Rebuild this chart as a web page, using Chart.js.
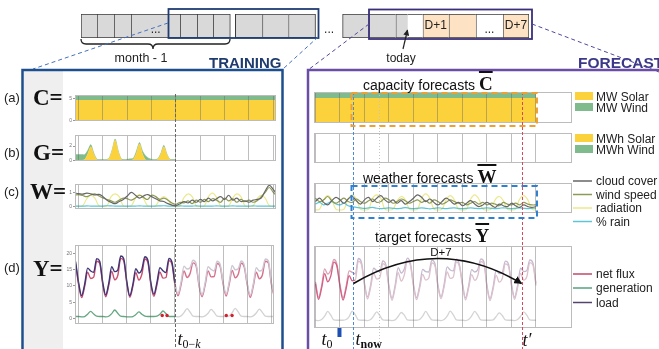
<!DOCTYPE html>
<html><head><meta charset="utf-8">
<script src="https://cdn.jsdelivr.net/npm/chart.js@4.4.1/dist/chart.umd.min.js"></script>
<style>
html,body{margin:0;padding:0;background:#fff}
#root{position:relative;width:659px;height:349px;overflow:hidden;background:#fff;font-family:"Liberation Sans",Arial,sans-serif}
#root canvas{position:absolute}
.ttl{position:absolute;white-space:nowrap;font-size:14px;line-height:14px;color:#111}
.ttl b{font-family:"Liberation Serif",serif;font-size:19px;text-decoration:overline;text-decoration-thickness:2px}
</style></head>
<body><div id="root">
<div style="position:absolute;left:24px;top:71px;width:39px;height:280px;background:#efefef"></div>
</div>
<script>
// ---------------- DATA ----------------
// top timeline (cell sizes, kinds, texts)
const tlUnits = [16,17,17,49,17,16,17,5,27,26,27,27,26,27,12,15,26,27,27,26];
const tlKinds = ['g','g','g','g','g','g','g','_','g','g','g','_','g','g','g','h','p','p','w','p'];
const tlText  = ['','','','...','','','','','','','','...','','','','','D+1','','...','D+7'];

// day grid
const daysL = [0,1,2,3,4,5,6,7,8];
const daysR = [0,1,2,3,4,5,6,7,8,9];

// time markers (days)
const T0K = 4, TNOW = 1.53, TTODAY = 2.6, TPRIME = 8.43, REND = 9;

// capacity C (MW)
const capDaysL  = [-1,0,1,2,3,4,5,6,7,8,9];
const capSolarL = [4.6,4.6,4.6,4.6,4.6,4.6,4.6,4.6,4.6,4.6,4.6];
const capWindL  = [1.15,1.15,1.15,1.15,1.15,1.15,1.15,1.15,1.15,1.15,1.15];
const capDaysR  = [-1,0,1,2,3,4,5,6,7,8,9];
const capSolarR = [4.6,4.6,4.6,4.6,4.6,4.6,4.6,4.6,4.6,4.6,4.6];
const capWindR  = [1.1,1.1,1.1,1.1,1.1,1.1,1.1,1.1,1.1,1.1,1.1];

// generation G (MWh), 3-hourly from day -0.125 to 4
const genSolarL = [0,
 0,0,0.1,0.9,1.9,0.8,0.05,0,
 0,0,0.2,1.3,2.8,1.2,0.1,0,
 0,0,0.1,1.0,2.3,0.9,0.05,0,
 0,0,0.1,0.8,1.9,0.8,0.05,0,
 0];
const genWindL = [0.8,
 0.8,0.8,0.7,0.5,0.3,0.2,0.1,0.1,
 0.1,0.1,0.1,0.15,0.2,0.15,0.1,0.1,
 0.15,0.2,0.2,0.3,0.2,0.4,0.6,0.3,
 0.15,0.1,0.1,0.15,0.2,0.1,0.1,0.1,
 0.1];

// weather W, 4-hourly; left from day -1/6, right from day 0
const cloudL = [0.95,0.92,0.88,0.95,0.9,0.82,0.86,
 0.7,0.45,0.3,0.2,0.35,0.5,
 0.75,1.0,0.8,0.6,0.75,0.85,
 0.7,0.55,0.4,0.35,0.2,0.1,
 0.05,0.2,0.35,0.25,0.45,0.3,
 0.5,0.35,0.6,0.4,0.55,0.7,
 0.5,0.8,0.45,0.6,0.35,0.4,
 0.3,0.45,0.5,0.6,1.1,1.5,
 1.2,0.8];
const windL = [0.8,0.85,0.78,0.7,0.82,0.9,0.75,
 0.6,0.5,0.4,0.3,0.45,0.6,
 0.55,0.45,0.6,0.8,0.65,0.5,
 0.8,0.7,0.5,0.6,0.45,0.25,
 0.15,0.3,0.25,0.4,0.2,0.45,
 0.3,0.5,0.35,0.55,0.45,0.3,
 0.6,0.4,0.55,0.3,0.5,0.35,
 0.45,0.3,0.4,0.7,1.0,1.35,
 1.0,0.7];
const radL = [0.05,
 0,0.05,0.55,0.8,0.6,0.05,
 0,0.05,0.7,0.9,0.7,0.05,
 0,0.05,0.6,0.85,0.55,0.05,
 0,0.05,0.5,0.7,0.5,0.05,
 0,0.05,0.65,0.9,0.7,0.05,
 0,0.05,0.7,0.95,0.65,0.05,
 0,0.05,0.6,0.9,0.7,0.05,
 0,0.05,0.55,0.8,0.6,0.05,
 0,0.05];
const rainL = [0.03,0.03,0.02,0.04,0.03,0.03,0.02,
 0.03,0.05,0.04,0.03,0.02,0.03,
 0.03,0.02,0.03,0.04,0.03,0.02,
 0.03,0.03,0.04,0.05,0.03,0.02,
 0.03,0.04,0.03,0.02,0.03,0.04,
 0.03,0.02,0.03,0.03,0.04,0.03,
 0.02,0.03,0.04,0.03,0.02,0.03,
 0.03,0.04,0.03,0.02,0.03,0.03,
 0.03,0.03];
const cloudR = [0.5,0.7,0.45,0.3,0.55,0.75,
 0.6,0.4,0.65,0.8,0.55,0.35,
 0.6,0.75,0.5,0.7,0.85,0.6,
 0.45,0.6,0.4,0.55,0.35,0.5,
 0.7,0.9,0.75,0.5,0.65,0.45,
 0.3,0.5,0.7,0.55,0.35,0.45,
 0.25,0.4,0.55,0.35,0.2,0.3,
 0.45,0.3,0.15,0.35,0.25,0.2,
 0.4,0.25,0.15,0.3,0.2,0.15,
 0.2];
const windR = [0.7,0.5,0.6,0.8,0.55,0.4,
 0.55,0.7,0.5,0.45,0.65,0.5,
 0.4,0.55,0.65,0.45,0.5,0.7,
 0.6,0.4,0.5,0.65,0.55,0.4,
 0.5,0.6,0.45,0.55,0.4,0.6,
 0.5,0.35,0.45,0.6,0.5,0.4,
 0.45,0.3,0.4,0.5,0.35,0.45,
 0.3,0.4,0.35,0.25,0.45,0.35,
 0.3,0.4,0.3,0.45,0.35,0.3,
 0.3];
const radR = [0,0.05,0.6,0.85,0.6,0.05,
 0,0.05,0.65,0.9,0.65,0.05,
 0,0.05,0.7,0.9,0.7,0.05,
 0,0.05,0.55,0.8,0.6,0.05,
 0,0.05,0.7,0.95,0.7,0.05,
 0,0.05,0.6,0.85,0.6,0.05,
 0,0.05,0.65,0.9,0.65,0.05,
 0,0.05,0.6,0.8,0.55,0.05,
 0,0.05,0.65,0.85,0.6,0.05,
 0];
const rainR = [0.35,0.45,0.3,0.4,0.5,0.35,
 0.3,0.4,0.25,0.2,0.15,0.12,
 0.1,0.12,0.15,0.1,0.08,0.1,
 0.12,0.1,0.08,0.1,0.14,0.1,
 0.08,0.1,0.12,0.1,0.07,0.1,
 0.13,0.1,0.08,0.11,0.12,0.09,
 0.08,0.1,0.12,0.1,0.08,0.1,
 0.12,0.1,0.08,0.1,0.13,0.1,
 0.08,0.1,0.12,0.1,0.08,0.1,
 0.1];

// targets Y, 3-hourly; left from day -0.125, right from day 0
const loadL = [17.5,
 11,7,10.5,15.5,14.6,14.2,18.4,17.6,
 11.2,7.2,10.8,15.9,14.4,14.9,19.2,18.3,
 11.4,7.0,10.4,15.3,14.0,15.1,19.0,17.9,
 11.0,7.4,11.0,15.6,14.7,14.1,18.5,17.3,
 10.9,7.6,11.1,16.1,15.2,15.6,17.9,16.9,
 10.6,7.3,10.9,15.9,15.1,14.6,17.6,16.6,
 11.1,7.5,11.3,16.3,15.0,15.3,17.7,16.4,
 10.9,7.1,10.6,15.6,14.6,15.0,18.3,17.7,
 11.2,7.2];
const netL = [16.8,
 10.4,6.4,9.8,14.2,12.3,12.7,17.6,17.0,
 10.6,6.7,10.1,14.5,11.9,13.2,18.5,17.7,
 10.9,6.5,9.8,14.1,11.8,13.6,18.3,17.3,
 10.4,6.8,10.3,14.3,12.4,12.6,17.8,16.7,
 10.3,7.0,10.3,14.6,12.6,13.8,17.1,16.2,
 10.0,6.7,10.2,14.6,12.8,12.9,16.9,16.0,
 10.5,6.9,10.5,14.8,12.5,13.6,17.0,15.8,
 10.3,6.5,9.9,14.2,12.2,13.3,17.6,17.1,
 10.6,6.6];
const genL = [0.6,
 0.6,0.5,0.6,1.3,2.2,1.4,0.7,0.6,
 0.6,0.5,0.7,1.5,2.6,1.6,0.7,0.6,
 0.5,0.5,0.6,1.2,2.0,1.3,0.7,0.6,
 0.6,0.6,0.7,1.3,2.3,1.5,0.6,0.6,
 0.6,0.5,0.8,1.8,3.0,2.0,0.7,0.6,
 0.6,0.5,0.8,1.6,2.8,1.9,0.7,0.6,
 0.6,0.6,0.8,1.8,3.1,2.0,0.7,0.6,
 0.6,0.5,0.8,1.7,2.9,1.9,0.7,0.6,
 0.6,0.6];
const missX = [3.47,3.67,6.13,6.37];
const missY = [0.9,0.9,0.9,0.9];
const loadR = [12,7.4,10.8,15.8,14.3,15.5,18.6,17.2,
 11.2,7.2,10.6,15.2,14.8,14.3,18.9,17.8,
 11.6,7.5,11.0,16.0,15.3,15.0,18.2,17.0,
 10.8,7.1,10.9,16.2,14.6,15.8,19.0,17.5,
 11.3,7.3,10.7,15.7,15.0,14.9,18.4,17.4,
 11.0,7.6,11.2,16.4,15.5,15.2,18.7,17.1,
 11.5,7.2,10.8,15.6,14.9,15.6,18.8,17.9,
 10.9,7.0,10.5,15.4,14.4,14.8,18.1,17.3,
 11.4,7.4,11.0,16.0,15.0,15.3,18.5,17.6,
 11.5];
const netR = [11.4,6.8,10.1,14.4,12.0,13.7,17.8,16.6,
 10.6,6.6,9.9,13.8,12.3,12.5,18.1,17.2,
 11.0,6.9,10.3,14.5,12.8,13.2,17.4,16.4,
 10.2,6.5,10.2,14.7,12.2,14.0,18.2,16.9,
 10.7,6.7,10.0,14.2,12.5,13.1,17.6,16.8,
 10.4,7.0,10.5,14.9,13.0,13.4,17.9,16.5,
 10.9,6.6,10.1,14.1,12.4,13.8,18.0,17.3,
 10.3,6.4,9.8,13.9,11.9,13.0,17.3,16.7,
 10.8,6.8,10.3,14.5,12.5,13.5,17.7,17.0,
 10.9];
const genR = [0.6,0.5,0.8,1.8,3.2,2.1,0.7,0.6,
 0.6,0.6,0.8,1.7,3.3,2.2,0.7,0.6,
 0.6,0.5,0.8,1.9,3.1,2.0,0.7,0.6,
 0.6,0.5,0.7,1.7,2.9,2.1,0.7,0.6,
 0.6,0.6,0.8,1.8,3.2,1.9,0.7,0.6,
 0.6,0.5,0.8,1.8,3.3,2.2,0.7,0.6,
 0.6,0.5,0.8,1.9,3.2,2.1,0.7,0.6,
 0.6,0.6,0.7,1.7,2.8,2.0,0.7,0.6,
 0.6,0.5,0.8,1.8,3.1,2.1,0.7,0.6,
 0.6];

// axis ticks
const yTicksC = [0,5], yTicksG = [0,2], yTicksW = [0,1], yTicksY = [0,5,10,15,20];

// ---------------- RENDER ----------------
Chart.defaults.font.family = '"Liberation Sans", Arial, sans-serif';
const root = document.getElementById('root');
function addCanvas(left, top, w, h){
  const c = document.createElement('canvas');
  c.width = w; c.height = h;
  c.style.left = left+'px'; c.style.top = top+'px';
  c.style.width = w+'px'; c.style.height = h+'px';
  root.appendChild(c); return c;
}
const pts = (vals, x0, step) => vals.map((v,i)=>({x:x0+i*step, y:v}));
const pairs = (xs, ys) => xs.map((x,i)=>({x, y:ys[i]}));
const seg = (t, a, b) => ({borderColor: c => c.p0.parsed.x < t ? a : b});

const framePlugin = {id:'frame', afterDraw(c){
  const a = c.chartArea, x = c.ctx;
  x.save(); x.strokeStyle = '#bcbcbc'; x.lineWidth = 1;
  x.strokeRect(Math.round(a.left)+0.5, Math.round(a.top)+0.5, Math.round(a.right-a.left)-1, Math.round(a.bottom-a.top)-1);
  x.restore();
}};

function panelChart(pos, xr, yr, datasets, yTicks){
  const [left, top, w, h] = pos;
  const showY = yTicks.length > 0;
  const ch = new Chart(addCanvas(left, top, w, h), {
    type:'line', data:{datasets},
    options:{
      responsive:false, animation:false, devicePixelRatio:1, events:[],
      layout:{padding:{left: showY?0:2, right:2, top:2, bottom:1}},
      plugins:{legend:{display:false}, tooltip:{enabled:false}},
      elements:{point:{radius:0}, line:{borderWidth:1.2}},
      scales:{
        x:{type:'linear', min:xr.min, max:xr.max,
           afterBuildTicks:s=>{s.ticks = xr.ticks.map(v=>({value:v}));},
           ticks:{display:false},
           grid:{color:'rgba(100,100,100,0.42)', drawTicks:false, lineWidth:1, z:1},
           border:{display:false},
           afterFit:s=>{s.height = 0;}},
        y:{type:'linear', min:yr.min, max:yr.max, stacked:!!yr.stacked, display:showY,
           afterBuildTicks:s=>{s.ticks = yTicks.map(v=>({value:v}));},
           ticks:{font:{size:5}, color:'#777', padding:1},
           grid:{drawOnChartArea:false, drawTicks:true, tickLength:2, color:'#999'},
           border:{display:false},
           afterFit:s=>{s.width = showY ? 13 : 0;}}
      }
    },
    plugins:[framePlugin]
  });
  ch._left = left; ch._top = top;
  return ch;
}

// timeline
const tlTotal = tlUnits.reduce((a,b)=>a+b,0);
const tlFill = {g:'#d9d9d9', h:'#ffffff', p:'#fde2c4', w:'#ffffff', _:'rgba(0,0,0,0)'};
const tlDs = tlUnits.map((u,i)=>{
  const k = tlKinds[i], nx = tlKinds[i+1];
  return {data:[u], backgroundColor:tlFill[k], borderColor:'#3a3a3a', borderSkipped:false,
    borderWidth: k==='_' ? 0 : {top:1, bottom:1, left: k==='h'?0:1, right:(nx===undefined||nx==='_')?1:0}};
});
const tlLabels = {id:'tlLabels', afterDatasetsDraw(c){
  const ctx = c.ctx; ctx.save();
  ctx.font = '12px "Liberation Sans", Arial'; ctx.fillStyle = '#222';
  ctx.textAlign = 'center'; ctx.textBaseline = 'middle';
  c.data.datasets.forEach((d,i)=>{
    const t = tlText[i]; if(!t) return;
    const e = c.getDatasetMeta(i).data[0];
    const cx = (e.x + e.base)/2;
    ctx.fillText(t, cx, e.y + (t==='...' ? 4 : 0));
  });
  ctx.restore();
}};
new Chart(addCanvas(79,13,452,26), {
  type:'bar', data:{labels:[''], datasets:tlDs},
  options:{indexAxis:'y', responsive:false, animation:false, devicePixelRatio:1, events:[],
    layout:{padding:{left:2,right:2,top:1,bottom:1}},
    plugins:{legend:{display:false}, tooltip:{enabled:false}},
    datasets:{bar:{barPercentage:1, categoryPercentage:1}},
    scales:{x:{stacked:true, display:false, min:0, max:tlTotal}, y:{stacked:true, display:false}}},
  plugins:[tlLabels]
});

const SOLAR = '#fcd23c', WIND = '#7fbb8d';
const C_CLOUD = '#666666', C_WIND = '#8c9a55', C_RAD = '#ece98e', C_RAIN = '#5cc6d6';
const xrL = {min:-0.15, max:8.11, ticks:daysL};
const xrR = {min:-0.06, max:10.47, ticks:daysR};
const yrC = {min:-0.2, max:5.77, stacked:true};
const yrG = {min:-0.1, max:3.55, stacked:true};
const yrW = {min:-0.18, max:1.6};
const yrY = {min:-1.7, max:22.6};

// LEFT (training)
const caL = panelChart([62,91,216,34], xrL, yrC, [
  {data:pairs(capDaysL,capSolarL), fill:'origin', backgroundColor:SOLAR, borderWidth:0, tension:0},
  {data:pairs(capDaysL,capWindL), fill:'-1', backgroundColor:WIND, borderWidth:0, tension:0}
], yTicksC);
const cgL = panelChart([62,131,216,34], xrL, yrG, [
  {data:pts(genSolarL,-0.125,0.125), fill:'origin', backgroundColor:SOLAR, borderColor:SOLAR, borderWidth:0.5, tension:0.25},
  {data:pts(genWindL,-0.125,0.125), fill:'-1', backgroundColor:WIND, borderColor:WIND, borderWidth:0.5, tension:0.25}
], yTicksG);
const cwL = panelChart([62,180,216,33], xrL, yrW, [
  {data:pts(cloudL,-1/6,1/6), borderColor:C_CLOUD, tension:0.4},
  {data:pts(windL,-1/6,1/6), borderColor:C_WIND, tension:0.4},
  {data:pts(rainL,-1/6,1/6), borderColor:C_RAIN, tension:0.4},
  {data:pts(radL,-1/6,1/6), borderColor:C_RAD, tension:0.4}
], yTicksW);
const cyL = panelChart([62,241,216,87], xrL, yrY, [
  {type:'line', data:pairs(missX,missY), showLine:false, pointRadius:1.7, pointBackgroundColor:'#d3202e', pointBorderWidth:0},
  {data:pts(loadL,-0.125,0.125), borderWidth:1.4, borderColor:'#3d3577', segment:seg(T0K,'#3d3577','#cbc7d3'), cubicInterpolationMode:'monotone'},
  {data:pts(netL,-0.125,0.125), borderWidth:1.4, borderColor:'#cc4d6c', segment:seg(T0K,'#cc4d6c','#d8708b'), cubicInterpolationMode:'monotone'},
  {data:pts(genL,-0.125,0.125), borderWidth:1.3, borderColor:'#66a680', segment:seg(T0K,'#66a680','#d2d2d2'), cubicInterpolationMode:'monotone'}
], yTicksY);

// RIGHT (forecast)
const caR = panelChart([312,90,262,34], xrR, yrC, [
  {data:pairs(capDaysR,capSolarR), fill:'origin', backgroundColor:SOLAR, borderWidth:0, tension:0},
  {data:pairs(capDaysR,capWindR), fill:'-1', backgroundColor:WIND, borderWidth:0, tension:0}
], []);
const cgR = panelChart([312,131,262,33], xrR, yrG, [], []);
const cwR = panelChart([312,181,262,33], xrR, yrW, [
  {data:pts(cloudR,0,1/6), borderColor:C_CLOUD, tension:0.4},
  {data:pts(windR,0,1/6), borderColor:C_WIND, tension:0.4},
  {data:pts(rainR,0,1/6), borderColor:C_RAIN, tension:0.4},
  {data:pts(radR,0,1/6), borderColor:C_RAD, tension:0.4}
], []);
const cyR = panelChart([312,244,262,85], xrR, yrY, [
  {data:pts(netR,0,0.125), borderWidth:1.3, borderColor:'#d35f83', segment:seg(TNOW,'#d35f83','#dcc0cc'), cubicInterpolationMode:'monotone'},
  {data:pts(loadR,0,0.125), borderWidth:1.3, borderColor:'#d9a0b4', segment:seg(TNOW,'#d9a0b4','#c4b8cf'), cubicInterpolationMode:'monotone'},
  {data:pts(genR,0,0.125), borderWidth:1.3, borderColor:'#d4d4d4', cubicInterpolationMode:'monotone'}
], []);

// ---------------- OVERLAY ----------------
const xL = v => cyL.scales.x.getPixelForValue(v) + cyL._left;
const xR = v => cyR.scales.x.getPixelForValue(v) + cyR._left;
const yRY = v => cyR.scales.y.getPixelForValue(v) + cyR._top;
const aR = {l:caR.chartArea.left+caR._left, t:caR.chartArea.top+caR._top, b:caR.chartArea.bottom+caR._top};
const wR = {t:cwR.chartArea.top+cwR._top, b:cwR.chartArea.bottom+cwR._top};
const topL = caL.chartArea.top + caL._top;

const x0k = Math.round(xL(T0K))+0.5, xNow = Math.round(xR(TNOW))+0.5, xTod = Math.round(xR(TTODAY))+0.5,
      xPr = Math.round(xR(TPRIME))+0.5, xEnd = xR(REND), x0 = xR(0);
const yA = yRY(11.5), xMid = (xNow + xPr)/2;

const svg = `
<svg width="659" height="349" style="position:absolute;left:0;top:0" xmlns="http://www.w3.org/2000/svg">
<defs>
 <marker id="ah" viewBox="0 0 10 10" refX="9" refY="5" markerWidth="8" markerHeight="8" orient="auto" markerUnits="userSpaceOnUse"><path d="M0,0 L10,5 L0,10 z" fill="#111"/></marker>
 <marker id="ah2" viewBox="0 0 10 10" refX="9" refY="5" markerWidth="6" markerHeight="6" orient="auto" markerUnits="userSpaceOnUse"><path d="M0,0 L10,5 L0,10 z" fill="#222"/></marker>
</defs>
<rect x="168.5" y="9" width="150" height="29" fill="none" stroke="#203c72" stroke-width="1.8"/>
<rect x="369" y="9.5" width="163" height="29.5" fill="none" stroke="#3a2f7a" stroke-width="1.8"/>
<path d="M81,39 Q81,44 86,44 L148,44 Q153,44 153,49 Q153,44 158,44 L225,44 Q230,44 230,39" fill="none" stroke="#222" stroke-width="1.3"/>
<text x="141" y="62" font-size="12.5" text-anchor="middle" fill="#222">month - 1</text>
<text x="209" y="68" font-size="15" font-weight="bold" fill="#1f3b6e">TRAINING</text>
<text x="401" y="62" font-size="12" text-anchor="middle" fill="#222">today</text>
<line x1="403" y1="49" x2="407.5" y2="30" stroke="#222" stroke-width="1.2" marker-end="url(#ah2)"/>
<text x="578" y="68" font-size="15.5" font-weight="bold" fill="#3b3889">FORECAST</text>
<line x1="168" y1="23" x2="33" y2="69" stroke="#4470c0" stroke-width="1" stroke-dasharray="4 3"/>
<line x1="318" y1="37" x2="283" y2="69" stroke="#4470c0" stroke-width="1" stroke-dasharray="4 3"/>
<line x1="369" y1="24" x2="308" y2="70" stroke="#50489a" stroke-width="1" stroke-dasharray="4 3"/>
<line x1="532" y1="24" x2="659" y2="72" stroke="#50489a" stroke-width="1" stroke-dasharray="4 3"/>
<rect x="22.5" y="70" width="260" height="300" fill="none" stroke="#1d4f8f" stroke-width="2.5"/>
<rect x="308" y="70" width="370" height="300" fill="none" stroke="#6a4ea6" stroke-width="2.5"/>
<g font-size="13" fill="#222">
 <text x="4" y="102">(a)</text><text x="4" y="157">(b)</text><text x="4" y="196">(c)</text><text x="4" y="272">(d)</text>
</g>
<g font-family="Liberation Serif" font-weight="bold" font-size="23" fill="#111">
 <text x="33" y="105">C=</text><text x="33" y="160">G=</text><text x="30" y="199">W=</text><text x="33" y="276">Y=</text>
</g>
<line x1="${x0k}" y1="${topL-1}" x2="${x0k}" y2="349" stroke="#666" stroke-width="1" stroke-dasharray="3 2"/>
<line x1="${xTod}" y1="${aR.t}" x2="${xTod}" y2="349" stroke="#c4c4c4" stroke-width="1" stroke-dasharray="1 2"/>
<line x1="${xNow}" y1="${aR.t}" x2="${xNow}" y2="349" stroke="#4d8ad6" stroke-width="1" stroke-dasharray="3 2"/>
<line x1="${xPr}" y1="${aR.t}" x2="${xPr}" y2="349" stroke="#d9485a" stroke-width="1" stroke-dasharray="3 2"/>
<rect x="${xNow-2}" y="${aR.t+1}" width="${xEnd+1-(xNow-2)}" height="${aR.b+3-(aR.t+1)}" fill="none" stroke="#f0a030" stroke-width="2" stroke-dasharray="6 4"/>
<rect x="${xNow-2}" y="${wR.t+3}" width="${xEnd+1-(xNow-2)}" height="${wR.b+5-(wR.t+3)}" fill="none" stroke="#2f80d0" stroke-width="2" stroke-dasharray="6 4"/>
<path d="M${xNow},${yA} Q${xMid},${yA-50} ${xPr-1},${yA}" fill="none" stroke="#111" stroke-width="1.6" marker-end="url(#ah)"/>
<text x="${xMid+3}" y="${yA-27}" font-size="11.5" text-anchor="middle" fill="#111">D+7</text>
<g font-family="Liberation Serif" fill="#111">
 <text x="${x0k+2}" y="345" font-size="18" font-style="italic">t<tspan font-size="12" dy="3" font-style="normal">0−</tspan><tspan font-size="12" font-style="italic">k</tspan></text>
 <text x="${x0+6}" y="345" font-size="18" font-style="italic">t<tspan font-size="12" dy="3" font-style="normal">0</tspan></text>
 <text x="${xNow+2}" y="345" font-size="18" font-style="italic">t<tspan font-size="12" dy="3" font-style="normal" font-weight="bold">now</tspan></text>
 <text x="${xPr}" y="346" font-size="18" font-style="italic">t′</text>
</g>
<rect x="${x0+22}" y="328" width="4" height="9" fill="#1f4fb4"/>
<g font-size="12" fill="#222">
 <rect x="575" y="92" width="18" height="8" fill="${SOLAR}"/><text x="596" y="101">MW Solar</text>
 <rect x="575" y="103" width="18" height="8" fill="${WIND}"/><text x="596" y="112">MW Wind</text>
 <rect x="575" y="134" width="18" height="8" fill="${SOLAR}"/><text x="596" y="143">MWh Solar</text>
 <rect x="575" y="145" width="18" height="8" fill="${WIND}"/><text x="596" y="154">MWh Wind</text>
 <line x1="573" y1="181" x2="592" y2="181" stroke="${C_CLOUD}" stroke-width="1.5"/><text x="596" y="185">cloud cover</text>
 <line x1="573" y1="194.5" x2="592" y2="194.5" stroke="${C_WIND}" stroke-width="1.5"/><text x="596" y="198.5">wind speed</text>
 <line x1="573" y1="208" x2="592" y2="208" stroke="${C_RAD}" stroke-width="1.5"/><text x="596" y="212">radiation</text>
 <line x1="573" y1="221.5" x2="592" y2="221.5" stroke="${C_RAIN}" stroke-width="1.5"/><text x="596" y="225.5">% rain</text>
 <line x1="573" y1="274" x2="592" y2="274" stroke="#c04868" stroke-width="1.5"/><text x="596" y="278">net flux</text>
 <line x1="573" y1="288" x2="592" y2="288" stroke="#5aa080" stroke-width="1.5"/><text x="596" y="292">generation</text>
 <line x1="573" y1="302.5" x2="592" y2="302.5" stroke="#50456f" stroke-width="1.5"/><text x="596" y="306.5">load</text>
</g>
</svg>`;
root.insertAdjacentHTML('beforeend', svg);
root.insertAdjacentHTML('beforeend',
  `<div class="ttl" style="left:363px;top:77px">capacity forecasts <b>C</b></div>
   <div class="ttl" style="left:363px;top:170px">weather forecasts <b>W</b></div>
   <div class="ttl" style="left:375px;top:229px">target forecasts <b>Y</b></div>`);
</script></body></html>
